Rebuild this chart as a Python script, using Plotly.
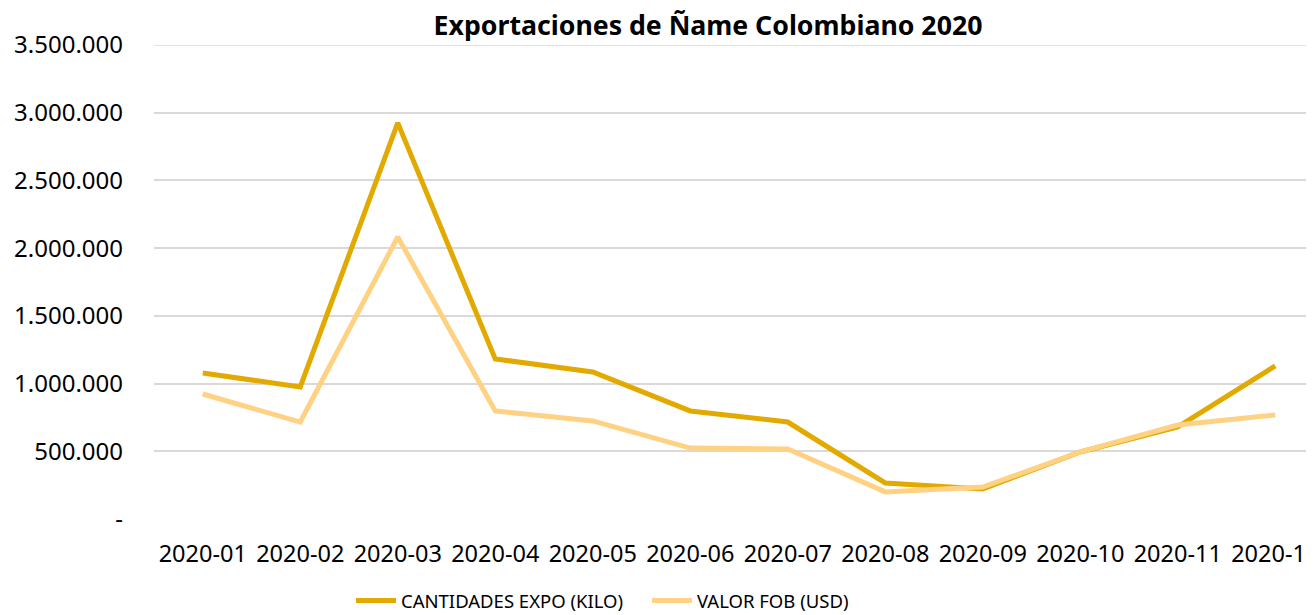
import plotly.graph_objects as go

months = ["2020-01", "2020-02", "2020-03", "2020-04", "2020-05", "2020-06",
          "2020-07", "2020-08", "2020-09", "2020-10", "2020-11", "2020-12"]
cantidades_kilo = [1078000, 975000, 2925000, 1182000, 1086000, 798000,
                   716000, 266000, 222000, 495000, 680000, 1130000]
valor_fob_usd = [923000, 716000, 2083000, 798000, 724000, 524000,
                 517000, 200000, 236000, 495000, 694000, 768000]
y_tickvals = [0, 500000, 1000000, 1500000, 2000000, 2500000, 3000000, 3500000]
y_ticktext = ["-", "500.000", "1.000.000", "1.500.000", "2.000.000",
              "2.500.000", "3.000.000", "3.500.000"]

FONT = "Noto Sans"

# page has an 8px body margin; figure is sized to fill the rest of the window
OFF = 8
W, H = 1314 - OFF, 615 - OFF
ml, mr, mt, mb = 154 - OFF, 0, 45 - OFF, 96
plot_w = W - ml - mr
plot_h = H - mt - mb
band = 97.5
span = plot_w / band

fig = go.Figure()
fig.add_trace(go.Scatter(x=months, y=cantidades_kilo, mode="lines",
                         name="CANTIDADES EXPO (KILO)", legend="legend",
                         line=dict(color="#E2AA00", width=5)))
fig.add_trace(go.Scatter(x=months, y=valor_fob_usd, mode="lines",
                         name="VALOR FOB (USD)", legend="legend2",
                         line=dict(color="#FFD283", width=5)))

# top gridline (plotly skips the gridline lying on the plot edge)
fig.add_hline(y=y_tickvals[-1], line=dict(color="#D9D9D9", width=1.5),
              layer="below")


def lx(page_x):
    return (page_x - OFF - ml) / plot_w


def ly(page_y):
    return (H - mb - (page_y - OFF)) / plot_h


leg_common = dict(orientation="h", xanchor="left", yanchor="middle",
                  font=dict(family=FONT, size=18.5), itemwidth=40,
                  bgcolor="rgba(0,0,0,0)")

fig.update_layout(
    width=W, height=H,
    margin=dict(l=ml, r=mr, t=mt, b=mb, autoexpand=False),
    paper_bgcolor="white", plot_bgcolor="white",
    font=dict(family=FONT, size=24, color="#000000"),
    title=dict(text="<b>Exportaciones de Ñame Colombiano 2020</b>",
               x=(708 - OFF) / W, xanchor="center",
               y=1 - (26 - OFF) / H, yanchor="middle",
               font=dict(family=FONT, size=26.7, color="#000000")),
    xaxis=dict(type="category", range=[-0.5, -0.5 + span],
               showgrid=False, showline=False, zeroline=False,
               ticks="", ticklabelstandoff=18, automargin=False,
               ticklabeloverflow="allow",
               tickfont=dict(family=FONT, size=23.5)),
    yaxis=dict(range=[0, 3500000], tickvals=y_tickvals, ticktext=y_ticktext,
               showgrid=True, gridcolor="#D9D9D9", gridwidth=1.5,
               zeroline=False, showline=False, ticks="",
               ticklabelstandoff=30, automargin=False,
               tickfont=dict(family=FONT, size=24)),
    legend=dict(x=lx(351), y=ly(601), **leg_common),
    legend2=dict(x=lx(647), y=ly(601), **leg_common),
    showlegend=True,
)

fig.write_html("out.html")
